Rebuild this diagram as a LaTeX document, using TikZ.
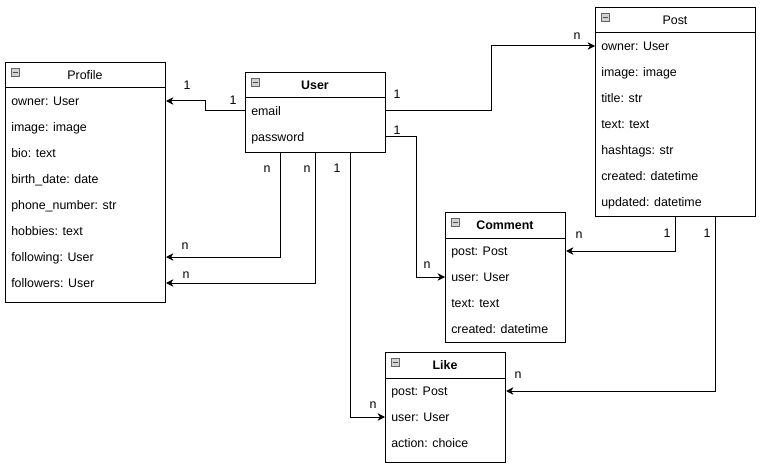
\documentclass[tikz,border=0pt]{standalone}
\usepackage{fontspec}
\setmainfont{Liberation Sans}
\usetikzlibrary{arrows.meta,calc}
\tikzset{
  box/.style={draw, line width=0.75pt, inner sep=0, anchor=north west, rectangle},
  row/.style={anchor=west, inner sep=0, text height=6.6pt, text depth=0pt, font=\fontsize{9.3}{11}\selectfont},
  ttl/.style={anchor=center, inner sep=0, text height=6.6pt, text depth=0pt, font=\fontsize{9.3}{11}\selectfont},
  bttl/.style={ttl, font=\fontsize{9.3}{11}\selectfont\bfseries},
  conn/.style={line width=0.75pt, -{Stealth[length=5.5pt,width=5.5pt,inset=1.6pt]}},
  lbl/.style={inner sep=0, text height=6.6pt, text depth=0pt, font=\fontsize{9.3}{11}\selectfont},
  icon/.style={draw=gray!80!black, fill=gray!35, line width=0.5pt}
}
\newcommand{\minusicon}[2]{%
  \draw[icon] (#1+6,#2+6) rectangle (#1+14,#2+14);
  \draw[line width=0.6pt, black!70] (#1+7.5,#2+10) -- (#1+12.5,#2+10);}
\begin{document}
\begin{tikzpicture}[x=0.75pt,y=-0.75pt]
\useasboundingbox (0,0) rectangle (762,470);
% Profile
\node[box, minimum width=160*0.75pt, minimum height=240*0.75pt] (profile) at (5,62) {};
\draw[line width=0.75pt] (5,88) -- (165,88);
\minusicon{5}{62}
\node[ttl] (profilettl) at (85,75) {Profile};
\node[row] (powner) at (11,101) {owner: User};
\node[row] (pimage) at (11,127) {image: image};
\node[row] (pbio) at (11,153) {bio: text};
\node[row] (pbirth) at (11,179) {birth\_date: date};
\node[row] (pphone) at (11,205) {phone\_number: str};
\node[row] (phobbies) at (11,231) {hobbies: text};
\node[row] (pfollowing) at (11,257) {following: User};
\node[row] (pfollowers) at (11,283) {followers: User};
% User
\node[box, minimum width=140*0.75pt, minimum height=80*0.75pt] (user) at (245,72) {};
\draw[line width=0.75pt] (245,98) -- (385,98);
\minusicon{245}{72}
\node[bttl] (userttl) at (315,85) {User};
\node[row] (uemail) at (251,111) {email};
\node[row] (upassword) at (251,137) {password};
% Post
\node[box, minimum width=160*0.75pt, minimum height=209*0.75pt] (post) at (595,7) {};
\draw[line width=0.75pt] (595,33) -- (755,33);
\minusicon{595}{7}
\node[ttl] (postttl) at (675,20) {Post};
\node[row] (powner2) at (601,46) {owner: User};
\node[row] (pimage2) at (601,72) {image: image};
\node[row] (ptitle) at (601,98) {title: str};
\node[row] (ptext) at (601,124) {text: text};
\node[row] (phash) at (601,150) {hashtags: str};
\node[row] (pcreated) at (601,176) {created: datetime};
\node[row] (pupdated) at (601,202) {updated: datetime};
% Comment
\node[box, minimum width=120*0.75pt, minimum height=130*0.75pt] (comment) at (445,212) {};
\draw[line width=0.75pt] (445,238) -- (565,238);
\minusicon{445}{212}
\node[bttl] (commentttl) at (505,225) {Comment};
\node[row] (cpost) at (451,251) {post: Post};
\node[row] (cuser) at (451,277) {user: User};
\node[row] (ctext) at (451,303) {text: text};
\node[row] (ccreated) at (451,329) {created: datetime};
% Like
\node[box, minimum width=120*0.75pt, minimum height=110*0.75pt] (like) at (385,352) {};
\draw[line width=0.75pt] (385,378) -- (505,378);
\minusicon{385}{352}
\node[bttl] (likettl) at (445,365) {Like};
\node[row] (lpost) at (391,391) {post: Post};
\node[row] (luser) at (391,417) {user: User};
\node[row] (laction) at (391,443) {action: choice};
% Connectors
\draw[conn] (user.west |- uemail) -- ++(-40,0) |- (profile.east |- powner);
\draw[conn] (user.east |- uemail) -- ++(105,0) |- (post.west |- powner2);
\draw[conn] (user.east |- upassword) -- ++(30,0) |- (comment.west |- cuser);
\draw[conn] ($(user.south west)+(35,0)$) |- (profile.east |- pfollowing);
\draw[conn] ($(user.south west)+(70,0)$) |- (profile.east |- pfollowers);
\draw[conn] ($(user.south west)+(105,0)$) |- (like.west |- luser);
\draw[conn] (post.south) |- (comment.east |- cpost);
\draw[conn] ($(post.south west)+(120,0)$) |- (like.east |- lpost);
% Labels
\node[lbl] (l1) at (187,85) {1};
\node[lbl] (l2) at (233,100) {1};
\node[lbl] (l3) at (397,94) {1};
\node[lbl] (l4) at (577,35) {n};
\node[lbl] (l5) at (397,130) {1};
\node[lbl] (l6) at (427,264) {n};
\node[lbl] (l7) at (267,168) {n};
\node[lbl] (l8) at (185,245) {n};
\node[lbl] (l9) at (307,168) {n};
\node[lbl] (l10) at (186,274) {n};
\node[lbl] (l11) at (337,168) {1};
\node[lbl] (l12) at (373,404) {n};
\node[lbl] (l13) at (667,233) {1};
\node[lbl] (l14) at (579,234) {n};
\node[lbl] (l15) at (707,233) {1};
\node[lbl] (l16) at (518,374) {n};
\end{tikzpicture}
\end{document}
